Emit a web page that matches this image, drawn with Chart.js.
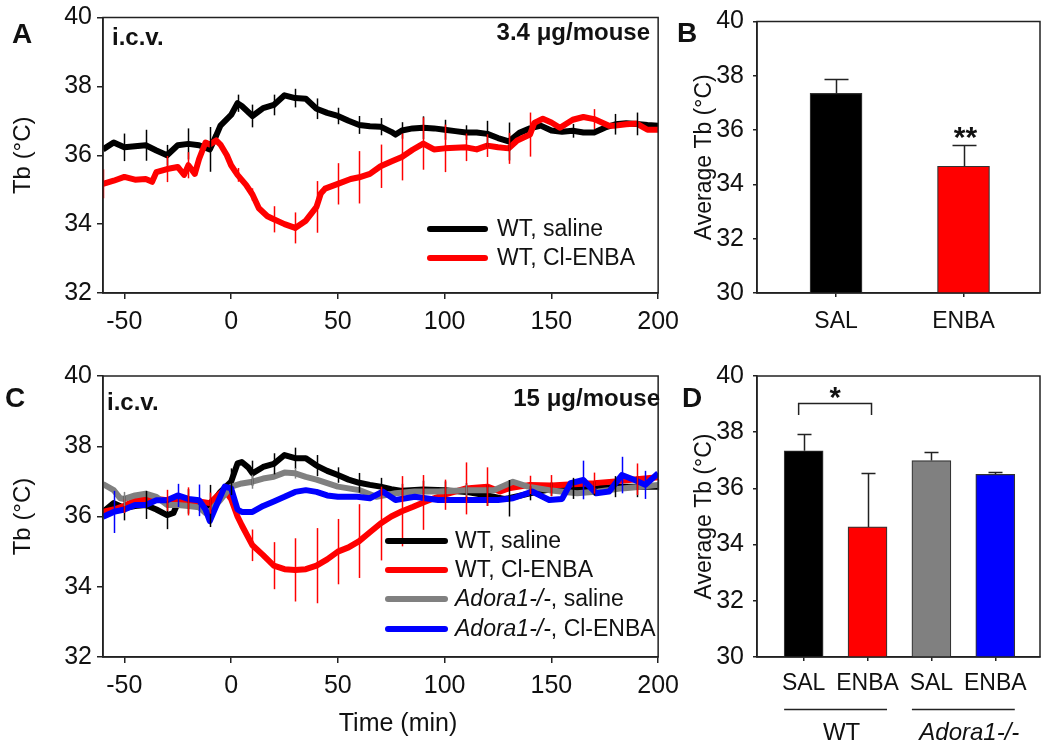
<!DOCTYPE html>
<html><head><meta charset="utf-8">
<script src="https://cdn.jsdelivr.net/npm/chart.js@4.4.0/dist/chart.umd.min.js"></script>
<style>
html,body{margin:0;padding:0;background:#fff;}
#wrap{position:relative;width:1050px;height:750px;overflow:hidden;background:#fff;}
canvas{position:absolute;}
</style></head><body>
<div id="wrap">
<canvas id="cA" width="690" height="330" style="left:0;top:0"></canvas>
<canvas id="cB" width="385" height="330" style="left:665px;top:0"></canvas>
<canvas id="cC" width="690" height="420" style="left:0;top:330px"></canvas>
<canvas id="cD" width="385" height="420" style="left:665px;top:330px"></canvas>
</div>
<script>
// ---------- tick labels ----------
const xTicks = [-50, 0, 50, 100, 150, 200];
const yTicksLine = [32, 34, 36, 38, 40];
const yTicksBar = [30, 32, 34, 36, 38, 40];

// ---------- Panel A (3.4 µg/mouse) ----------
const tA_sal = [-60,-55,-50,-45,-40,-35,-30,-25,-20,-15,-10,-7,-5,0,3,5,10,15,20,25,30,35,40,45,50,55,60,65,70,75,77,80,85,90,95,100,105,110,115,120,125,130,135,140,145,150,155,160,165,170,175,180,185,190,195,200];
const vA_sal = [36.17,36.37,36.23,36.26,36.29,36.14,36.0,36.29,36.33,36.29,36.17,36.57,36.86,37.17,37.51,37.43,37.14,37.37,37.46,37.74,37.66,37.64,37.35,37.23,37.14,37.0,36.88,36.84,36.83,36.68,36.6,36.72,36.78,36.8,36.78,36.74,36.7,36.66,36.66,36.62,36.5,36.4,36.65,36.78,36.86,36.72,36.68,36.71,36.66,36.66,36.8,36.9,36.93,36.91,36.88,36.86];
const tA_enba = [-60,-55,-50,-45,-40,-37,-35,-30,-25,-22,-20,-17,-15,-12,-10,-7,-5,-2,0,3,7,10,13,17,20,25,30,35,40,42,44,50,56,60,65,70,75,80,85,90,95,100,105,110,115,120,125,130,134,140,142,146,150,154,160,165,170,177,180,185,190,195,200];
const vA_enba = [35.17,35.26,35.37,35.29,35.31,35.23,35.51,35.6,35.66,35.43,35.71,35.46,35.89,36.37,36.31,36.43,36.31,36.0,35.71,35.43,35.14,34.86,34.46,34.23,34.14,34.0,33.89,34.1,34.5,34.89,35.03,35.17,35.31,35.36,35.46,35.68,35.82,35.95,36.16,36.34,36.17,36.2,36.22,36.23,36.17,36.28,36.23,36.2,36.43,36.6,36.94,37.06,36.95,36.8,37.03,37.11,37.05,36.86,36.86,36.9,36.92,36.74,36.74];
const errTA = [-60,-50,-40,-30,-20,-10,3,10,20,30,40,50,60,70,80,90,100,110,120,130,140,150,160,170,180,190,200];
const errA_sal = [null,.4,.45,.3,.45,.65,.25,.33,.3,.27,.3,.24,.26,.25,.24,.33,.29,.21,.38,.55,null,null,.2,null,.3,.33,null];
const errA_enba = [.42,null,null,.38,.38,null,.2,.18,.38,.45,.75,.6,.76,.63,.68,.76,.69,.4,.33,.45,.64,null,null,.29,null,null,null];
const namesA = ['WT, saline', 'WT, Cl-ENBA'];

// ---------- Panel C (15 µg/mouse) ----------
const tC_sal = [-60,-55,-50,-45,-40,-35,-30,-27,-25,-20,-15,-10,-5,0,3,5,8,10,15,20,25,30,35,40,45,50,55,60,65,70,75,80,90,100,110,120,128,130,140,150,160,170,180,190,200];
const vC_sal = [36.13,36.38,36.24,36.3,36.33,36.2,36.04,36.1,36.38,36.43,36.38,36.3,36.7,36.99,37.51,37.55,37.4,37.23,37.41,37.5,37.75,37.66,37.66,37.45,37.3,37.18,37.05,36.96,36.9,36.85,36.78,36.73,36.77,36.75,36.7,36.6,36.5,36.52,36.66,36.78,36.8,36.8,36.85,36.85,36.85];
const tC_enba = [-60,-55,-50,-45,-40,-35,-30,-25,-20,-15,-10,-5,-3,0,3,5,10,15,20,25,30,35,40,45,50,55,60,65,70,75,80,85,90,95,100,110,120,126,130,140,150,160,170,180,190,200];
const vC_enba = [36.13,36.2,36.3,36.46,36.5,36.5,36.46,36.46,36.43,36.43,36.38,36.67,36.75,36.5,36.0,35.75,35.18,34.9,34.6,34.5,34.48,34.5,34.6,34.78,35.0,35.12,35.3,35.55,35.8,36.0,36.15,36.27,36.4,36.52,36.62,36.8,36.85,36.71,36.8,36.9,36.88,36.92,36.95,37.0,37.06,37.12];
const tC_ko_sal = [-60,-55,-52,-50,-45,-40,-35,-30,-25,-20,-15,-12,-10,-5,0,5,10,15,20,25,30,35,40,45,50,60,68,77,86,97,110,123,132,139,149,162,172,183,192,200];
const vC_ko_sal = [36.92,36.75,36.52,36.5,36.6,36.65,36.56,36.33,36.33,36.3,36.26,36.1,36.15,36.47,36.85,36.94,36.99,37.08,37.13,37.25,37.23,37.13,37.05,36.95,36.85,36.75,36.56,36.66,36.71,36.71,36.75,36.75,36.99,36.85,36.75,36.66,36.71,36.8,36.85,36.9];
const tC_ko_enba = [-60,-55,-50,-45,-40,-35,-30,-25,-20,-15,-12,-10,-7,-3,0,3,5,10,15,20,25,30,35,40,45,50,59,65,71,77,86,97,110,119,125,132,141,149,155,159,165,171,177,183,189,194,200];
const vC_ko_enba = [35.99,36.13,36.2,36.33,36.33,36.46,36.46,36.6,36.5,36.46,36.2,35.87,36.3,36.85,36.8,36.2,36.13,36.13,36.3,36.43,36.56,36.7,36.75,36.7,36.6,36.56,36.56,36.52,36.71,36.47,36.56,36.47,36.47,36.47,36.47,36.52,36.71,36.47,36.5,36.95,37.04,36.66,36.71,37.18,37.04,36.9,37.23];
const errTC = [-60,-50,-40,-30,-20,-10,0,10,20,30,40,50,60,70,80,90,100,110,120,130,140,150,160,170,180,190,200];
const errC_sal = [null,.35,.4,.4,.35,.6,.38,.36,.3,.3,.3,.22,.28,.25,.2,.25,.25,.25,.3,.52,.2,.2,.3,.2,.3,.3,null];
const errC_enba = [null,.2,null,.3,.4,.3,null,.45,.67,.9,1.07,.93,1.05,1.05,1.0,.78,.43,.74,.55,null,.26,.3,null,.3,null,.45,null];
const errTC_ko_sal = [-50,10,30,110,200];
const errC_ko_sal = [.2,.2,.15,.15,.15];
const errTC_ko_enba = [-55,-25,-15,165,183,194];
const errC_ko_enba = [.6,.33,.45,.55,.52,.4];
const namesC = ['WT, saline', 'WT, Cl-ENBA', 'Adora1-/-, saline', 'Adora1-/-, Cl-ENBA'];

// ---------- Panel B ----------
const catsB = ['SAL', 'ENBA'];
const valsB = [37.35, 34.67];
const errB = [0.55, 0.79];
const sigB = ['', '**'];

// ---------- Panel D ----------
const catsD = ['SAL', 'ENBA', 'SAL', 'ENBA'];
const valsD = [37.34, 34.63, 36.99, 36.5];
const errD = [0.59, 1.93, 0.32, 0.08];
const groupsD = ['WT', 'Adora1-/-'];

const FONT = '"Liberation Sans", Arial, Helvetica, sans-serif';
Chart.defaults.font.family = FONT;
Chart.defaults.color = '#111';
const AX = '#222';

function framePlugin(){ return {id:'frame', afterDraw(c){const {ctx,chartArea:a}=c; ctx.save(); ctx.strokeStyle=AX; ctx.lineWidth=1.5; ctx.strokeRect(a.left,a.top,a.right-a.left,a.bottom-a.top); ctx.restore();}}; }
function textPlugin(items){ return {id:'texts', afterDraw(c){ const ctx=c.ctx; ctx.save(); items.forEach(it=>{ ctx.font=it.font; ctx.fillStyle='#111'; ctx.textAlign=it.align||'left'; ctx.textBaseline='alphabetic'; ctx.fillText(it.text,it.x,it.y);}); ctx.restore(); }}; }
function lineErrPlugin(series){ return {id:'lineErr', afterDatasetsDraw(c){ const ctx=c.ctx, xs=c.scales.x, ys=c.scales.y; ctx.save(); ctx.lineWidth=1.5; series.forEach(s=>{ ctx.strokeStyle=s.color; s.errT.forEach((t,i)=>{ const e=s.err[i]; if(e==null) return; const k=s.t.indexOf(t); if(k<0) return; const v=s.v[k]; const px=Math.round(xs.getPixelForValue(t))+0.5; ctx.beginPath(); ctx.moveTo(px, ys.getPixelForValue(v+e)); ctx.lineTo(px, ys.getPixelForValue(v-e)); ctx.stroke(); }); }); ctx.restore(); }}; }
function splitName(n){ const m='Adora1-/-'; return n.startsWith(m) ? [{s:m,it:true},{s:n.slice(m.length),it:false}] : [{s:n,it:false}]; }
function legendPlugin(series, x1, x2, tx, ys, fs){ return {id:'lg', afterDraw(c){ const ctx=c.ctx; ctx.save(); series.forEach((s,i)=>{ ctx.strokeStyle=s.color; ctx.lineWidth=6; ctx.lineCap='round'; ctx.beginPath(); ctx.moveTo(x1,ys[i]); ctx.lineTo(x2,ys[i]); ctx.stroke(); let x=tx; ctx.fillStyle='#111'; ctx.textBaseline='middle'; ctx.textAlign='left'; splitName(s.name).forEach(p=>{ ctx.font=(p.it?'italic ':'')+fs+'px '+FONT; ctx.fillText(p.s,x,ys[i]+1); x+=ctx.measureText(p.s).width; }); }); ctx.restore(); }}; }

function makeLine(id, series, cfg){
  return new Chart(document.getElementById(id), {
    type:'line',
    data:{datasets: series.map(s=>({label:s.name, data:s.t.map((t,i)=>({x:t,y:s.v[i]})), borderColor:s.color, backgroundColor:s.color, borderWidth:6, pointRadius:0, tension:0, order:s.order, borderJoinStyle:'round'}))},
    options:{
      responsive:false, animation:false, devicePixelRatio:1, events:[],
      layout:{padding:{top:cfg.top,right:25,left:0,bottom:0}},
      plugins:{legend:{display:false}, tooltip:{enabled:false}},
      scales:{
        x:{type:'linear', min:-60, max:200,
          afterBuildTicks: sc=>{ sc.ticks = xTicks.map(v=>({value:v})); },
          afterFit: sc=>{ sc.height = cfg.xh; },
          grid:{drawOnChartArea:false, color:AX, lineWidth:1.5, tickLength:6},
          border:{display:true, color:AX, width:1.5},
          ticks:{font:{size:25, lineHeight:1}, color:'#111', padding:11, maxRotation:0, autoSkip:false}},
        y:{type:'linear', min:32, max:40,
          afterBuildTicks: sc=>{ sc.ticks = yTicksLine.map(v=>({value:v})); },
          afterFit: sc=>{ sc.width = 103; },
          grid:{drawOnChartArea:false, color:AX, lineWidth:1.5, tickLength:6},
          border:{display:true, color:AX, width:1.5},
          ticks:{font:{size:25, lineHeight:1}, color:'#111', padding:5},
          title:{display:true, text:'Tb (°C)', font:{size:24}, color:'#111', padding:{top:9,bottom:0}}}
      }
    },
    plugins:[framePlugin(), lineErrPlugin(series), legendPlugin(cfg.legendSeries, cfg.lg.x1, cfg.lg.x2, cfg.lg.tx, cfg.lg.ys, 23), textPlugin(cfg.texts)]
  });
}

function barPlugin(cats, vals, errs, cap, extra){ return {id:'barErr', afterDatasetsDraw(c){ const ctx=c.ctx, xs=c.scales.x, ys=c.scales.y; ctx.save(); ctx.strokeStyle=AX; ctx.lineWidth=1.5; vals.forEach((v,i)=>{ const px=Math.round(xs.getPixelForValue(i+1))+0.5; const y0=ys.getPixelForValue(v), y1=Math.round(ys.getPixelForValue(v+errs[i]))+0.5; ctx.beginPath(); ctx.moveTo(px,y0); ctx.lineTo(px,y1); ctx.moveTo(px-cap,y1); ctx.lineTo(px+cap,y1); ctx.stroke(); }); ctx.restore(); if(extra) extra(c); }}; }

function makeBar(id, cats, vals, errs, colors, cfg){
  return new Chart(document.getElementById(id), {
    type:'bar',
    data:{datasets:[{data: cats.map((c,i)=>({x:i+1, y:vals[i]})), backgroundColor:colors, borderColor:'#333', borderWidth:1.2, barThickness:cfg.bw}]},
    options:{
      responsive:false, animation:false, devicePixelRatio:1, events:[],
      layout:{padding:{top:cfg.top,right:10,left:0,bottom:0}},
      plugins:{legend:{display:false}, tooltip:{enabled:false}},
      scales:{
        x:{type:'linear', min:cfg.xmin, max:cfg.xmax, offset:false,
          afterBuildTicks: sc=>{ sc.ticks = cats.map((c,i)=>({value:i+1})); },
          afterFit: sc=>{ sc.height = cfg.xh; },
          grid:{drawOnChartArea:false, offset:false, color:AX, lineWidth:1.5, tickLength:4},
          border:{display:true, color:AX, width:1.5},
          ticks:{callback:(v)=>cats[Math.round(v)-1], font:{size:23, lineHeight:1}, color:'#111', padding:cfg.tp, maxRotation:0, autoSkip:false}},
        y:{type:'linear', min:30, max:40, beginAtZero:false,
          afterBuildTicks: sc=>{ sc.ticks = yTicksBar.map(v=>({value:v})); },
          afterFit: sc=>{ sc.width = 92; },
          grid:{drawOnChartArea:false, color:AX, lineWidth:1.5, tickLength:4},
          border:{display:true, color:AX, width:1.5},
          ticks:{font:{size:25, lineHeight:1}, color:'#111', padding:9},
          title:{display:true, text:'Average Tb (°C)', font:{size:23}, color:'#111', padding:{top:26,bottom:0}}}
      }
    },
    plugins:[framePlugin(), barPlugin(cats, vals, errs, cfg.cap, cfg.extra), textPlugin(cfg.texts)]
  });
}

// ---------- build ----------
const seriesA = [
  {name:namesA[0], t:tA_sal, v:vA_sal, errT:errTA, err:errA_sal, color:'#000000', order:1},
  {name:namesA[1], t:tA_enba, v:vA_enba, errT:errTA, err:errA_enba, color:'#ff0000', order:0}
];
makeLine('cA', seriesA, {top:13, xh:37, legendSeries:seriesA,
  lg:{x1:430, x2:485, tx:497, ys:[229,258]},
  texts:[
    {text:'A', font:'bold 28px '+FONT, x:12, y:43},
    {text:'i.c.v.', font:'bold 24px '+FONT, x:112, y:45},
    {text:'3.4 μg/mouse', font:'bold 24px '+FONT, x:650, y:40, align:'right'}
  ]});

const seriesC = [
  {name:namesC[0], t:tC_sal, v:vC_sal, errT:errTC, err:errC_sal, color:'#000000', order:3},
  {name:namesC[1], t:tC_enba, v:vC_enba, errT:errTC, err:errC_enba, color:'#ff0000', order:2},
  {name:namesC[2], t:tC_ko_sal, v:vC_ko_sal, errT:errTC_ko_sal, err:errC_ko_sal, color:'#808080', order:1},
  {name:namesC[3], t:tC_ko_enba, v:vC_ko_enba, errT:errTC_ko_enba, err:errC_ko_enba, color:'#0000ff', order:0}
];
makeLine('cC', seriesC, {top:46, xh:93, legendSeries:seriesC,
  lg:{x1:388, x2:445, tx:455, ys:[211,240,269,299]},
  texts:[
    {text:'C', font:'bold 28px '+FONT, x:5, y:77},
    {text:'i.c.v.', font:'bold 24px '+FONT, x:107, y:80},
    {text:'15 μg/mouse', font:'bold 24px '+FONT, x:660, y:76, align:'right'},
    {text:'Time (min)', font:'25px '+FONT, x:398, y:401, align:'center'}
  ]});

makeBar('cB', catsB, valsB, errB, ['#000000','#ff0000'], {top:13, xh:37, bw:52, cap:12, tp:13, xmin:0.38, xmax:2.6,
  texts:[{text:'B', font:'bold 28px '+FONT, x:12, y:42}],
  extra:(c)=>{ const ctx=c.ctx, xs=c.scales.x, ys=c.scales.y; ctx.save(); ctx.font='bold 30px '+FONT; ctx.fillStyle='#111'; ctx.textAlign='center'; ctx.textBaseline='alphabetic';
    sigB.forEach((s,i)=>{ if(!s) return; ctx.fillText(s, xs.getPixelForValue(i+1)+2, ys.getPixelForValue(valsB[i]+errB[i])+2); }); ctx.restore(); }
});

makeBar('cD', catsD, valsD, errD, ['#000000','#ff0000','#808080','#0000ff'], {top:46, xh:93, bw:39, cap:7, tp:11, xmin:0.27, xmax:4.7,
  texts:[{text:'D', font:'bold 28px '+FONT, x:17, y:77}],
  extra:(c)=>{ const ctx=c.ctx, xs=c.scales.x, ys=c.scales.y; ctx.save();
    ctx.strokeStyle=AX; ctx.lineWidth=1.5;
    const p1=xs.getPixelForValue(1)-5, p2=xs.getPixelForValue(2)+4, yt=Math.round(ys.getPixelForValue(39.04))+0.5, yb=ys.getPixelForValue(38.61);
    ctx.beginPath(); ctx.moveTo(p1,yb); ctx.lineTo(p1,yt); ctx.lineTo(p2,yt); ctx.lineTo(p2,yb); ctx.stroke();
    ctx.font='bold 29px '+FONT; ctx.fillStyle='#111'; ctx.textAlign='center'; ctx.textBaseline='alphabetic';
    ctx.fillText('*', (p1+p2)/2, yt+3);
    const half=19.5; const ly=379.5;
    groupsD.forEach((g,k)=>{ const a=xs.getPixelForValue(2*k+1)-half, b=xs.getPixelForValue(2*k+2)+half;
      ctx.beginPath(); ctx.moveTo(a,ly); ctx.lineTo(b,ly); ctx.stroke();
      ctx.font=(g.startsWith('Adora')?'italic ':'')+'24px '+FONT; ctx.fillText(g,(a+b)/2+6,410); });
    ctx.restore(); }
});
</script>
</body></html>
